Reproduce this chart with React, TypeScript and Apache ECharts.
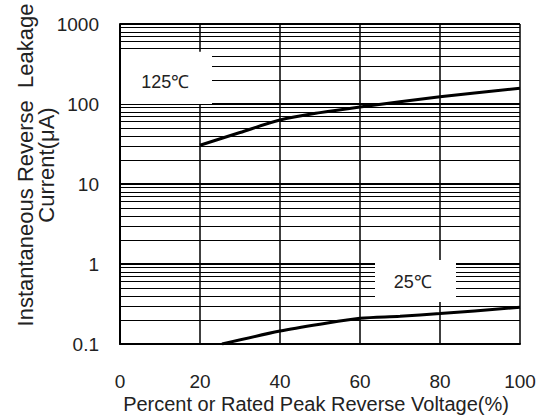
import React, { useEffect, useRef } from "react";
import * as echarts from "echarts";

// Data
const curve125C: [number, number][] = [
  [20, 30.5], [30, 44], [40, 63], [50, 78], [60, 92], [80, 123], [100, 157],
];
const curve25C: [number, number][] = [
  [25.5, 0.1], [40, 0.145], [50, 0.177], [60, 0.21], [70, 0.222], [80, 0.24], [100, 0.288],
];
const yTickLabels = ["0.1", "1", "10", "100", "1000"];
const xTickLabels = ["0", "20", "40", "60", "80", "100"];
const decadeStarts = [0.1, 1, 10, 100];
const minorSteps = [2, 3, 4, 5, 6, 7, 8, 9];

// Annotation boxes (data coordinates) that mask the grid
const labelBoxes = [
  { text: "125℃", x0: 0.25, x1: 23, y0: 100, y1: 450, tx: 11.3, ty: 190 },
  { text: "25℃", x0: 63.75, x1: 84, y0: 0.335, y1: 1.12, tx: 73.2, ty: 0.6 },
];

const FONT = "'Liberation Sans', Arial, sans-serif";
const TEXT_COLOR = "#222";

export default function App() {
  const ref = useRef<HTMLDivElement>(null);

  useEffect(() => {
    if (!ref.current) return;
    const chart = echarts.init(ref.current, undefined, { renderer: "svg" });

    const minorValues: number[] = [];
    decadeStarts.forEach((d) => minorSteps.forEach((s) => minorValues.push(+(d * s).toPrecision(6))));

    const option: any = {
      animation: false,
      backgroundColor: "#fff",
      grid: { left: 120, top: 24, right: 22, bottom: 75, containLabel: false },
      xAxis: {
        type: "value",
        min: 0,
        max: 100,
        interval: 20,
        axisLine: { show: true, lineStyle: { color: "#000", width: 2 } },
        axisTick: { show: false },
        axisLabel: {
          margin: 28,
          fontSize: 19,
          color: TEXT_COLOR,
          fontFamily: FONT,
          formatter: (_v: number, i: number) => xTickLabels[i] ?? "",
        },
        splitLine: { show: true, lineStyle: { color: "#000", width: 1.5 } },
      },
      yAxis: {
        type: "log",
        logBase: 10,
        min: 0.1,
        max: 1000,
        axisLine: { show: true, lineStyle: { color: "#000", width: 2 } },
        axisTick: { show: false },
        axisLabel: {
          margin: 21,
          fontSize: 19,
          color: TEXT_COLOR,
          fontFamily: FONT,
          formatter: (_v: number, i: number) => yTickLabels[i] ?? "",
        },
        splitLine: { show: true, lineStyle: { color: "#000", width: 2 } },
        minorTick: { show: false },
        minorSplitLine: { show: false },
      },
      series: [
        {
          type: "line",
          data: [],
          silent: true,
          z: 1,
          markLine: {
            silent: true,
            symbol: ["none", "none"],
            label: { show: false },
            emphasis: { disabled: true },
            lineStyle: { color: "#000", width: 1, type: "solid" },
            data: minorValues.map((v) => ({ yAxis: v })),
          },
        },
        {
          name: "125℃",
          type: "line",
          data: curve125C,
          smooth: 0.3,
          showSymbol: false,
          z: 10,
          lineStyle: { color: "#000", width: 3 },
        },
        {
          name: "25℃",
          type: "line",
          data: curve25C,
          smooth: 0.3,
          showSymbol: false,
          z: 10,
          lineStyle: { color: "#000", width: 3 },
        },
      ],
    };
    chart.setOption(option);

    const graphics: any[] = [];
    labelBoxes.forEach((b) => {
      const p0 = chart.convertToPixel({ gridIndex: 0 }, [b.x0, b.y1]) as number[];
      const p1 = chart.convertToPixel({ gridIndex: 0 }, [b.x1, b.y0]) as number[];
      const pt = chart.convertToPixel({ gridIndex: 0 }, [b.tx, b.ty]) as number[];
      graphics.push({
        type: "rect",
        z: 100,
        silent: true,
        shape: { x: p0[0], y: p0[1], width: p1[0] - p0[0], height: p1[1] - p0[1] },
        style: { fill: "#fff", stroke: null },
      });
      graphics.push({
        type: "text",
        z: 101,
        silent: true,
        x: pt[0],
        y: pt[1],
        style: {
          text: b.text,
          fontSize: 18,
          fontFamily: FONT,
          fill: TEXT_COLOR,
          align: "center",
          verticalAlign: "middle",
        },
      });
    });
    graphics.push({
      type: "text",
      z: 101,
      silent: true,
      x: 36,
      y: 165,
      rotation: Math.PI / 2,
      style: {
        text: "Instantaneous Reverse  Leakage\nCurrent(μA)",
        fontSize: 22,
        lineHeight: 21,
        fontFamily: FONT,
        fill: TEXT_COLOR,
        align: "center",
        verticalAlign: "middle",
      },
    });
    graphics.push({
      type: "text",
      z: 101,
      silent: true,
      x: 316,
      y: 404,
      style: {
        text: "Percent or Rated Peak Reverse Voltage(%)",
        fontSize: 20,
        fontFamily: FONT,
        fill: TEXT_COLOR,
        align: "center",
        verticalAlign: "middle",
      },
    });
    chart.setOption({ graphic: { elements: graphics } });

    return () => chart.dispose();
  }, []);

  return (
    <div
      ref={ref}
      style={{ position: "absolute", left: 0, top: 0, width: 542, height: 419 }}
    />
  );
}
